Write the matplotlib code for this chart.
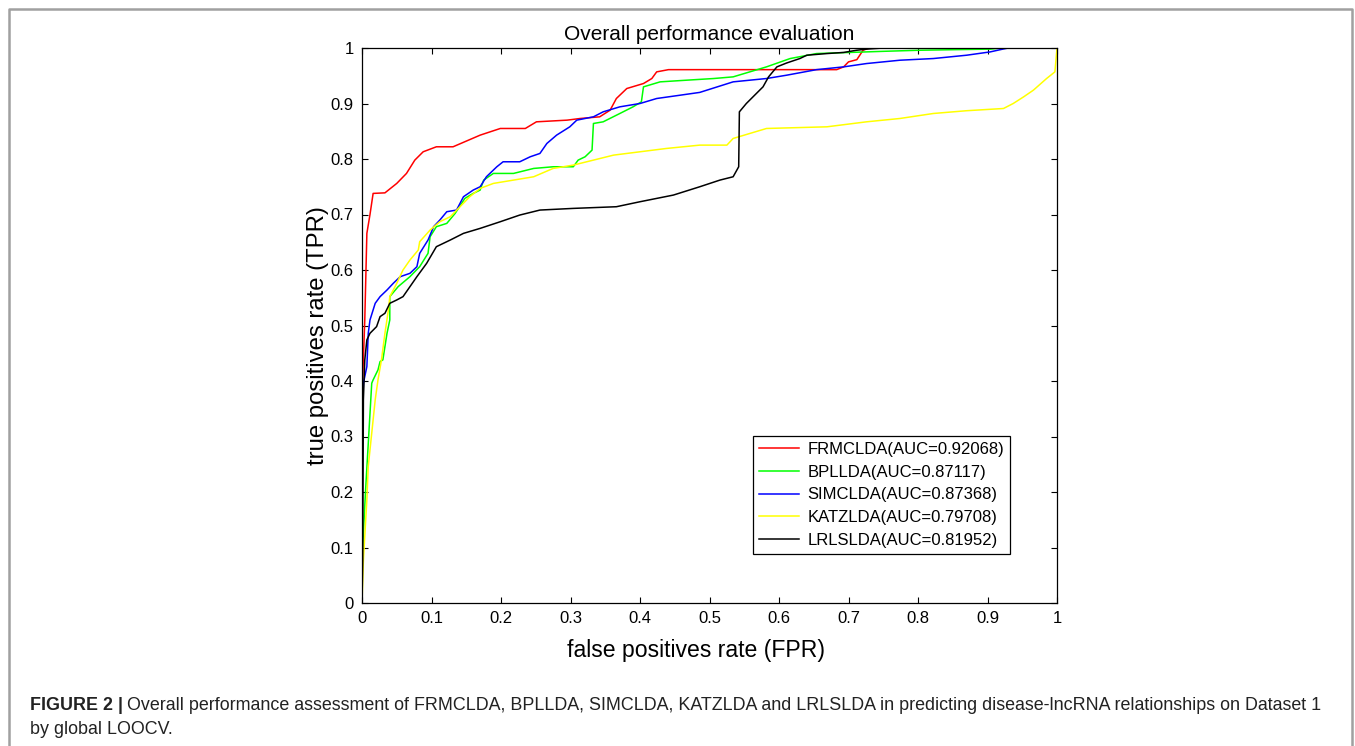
import numpy as np
import matplotlib
matplotlib.use('Agg')
import matplotlib.pyplot as plt
from matplotlib.lines import Line2D

plt.rcParams['font.family'] = ['Liberation Sans', 'DejaVu Sans']

# ROC curves (FPR, TPR)
frm_fpr = [0, 0.0, 0.004, 0.007, 0.0115, 0.016, 0.033, 0.05, 0.064, 0.076, 0.088, 0.107, 0.131, 0.17, 0.199,
           0.235, 0.251, 0.295, 0.314, 0.342, 0.357, 0.366, 0.381, 0.405, 0.417, 0.424, 0.441, 0.683, 0.693,
           0.70, 0.712, 0.721, 0.73, 1.0]
frm_tpr = [0, 0.37, 0.51, 0.666, 0.70, 0.738, 0.739, 0.756, 0.774, 0.798, 0.813, 0.822, 0.822, 0.843, 0.855,
           0.855, 0.867, 0.870, 0.873, 0.876, 0.888, 0.909, 0.927, 0.936, 0.945, 0.957, 0.961, 0.961, 0.966,
           0.975, 0.979, 0.996, 1.0, 1.0]

bpl_fpr = [0, 0.0, 0.005, 0.014, 0.016, 0.023, 0.026, 0.03, 0.036, 0.04, 0.04, 0.052, 0.069, 0.083, 0.095,
           0.098, 0.107, 0.122, 0.134, 0.148, 0.16, 0.17, 0.175, 0.189, 0.218, 0.247, 0.275, 0.304, 0.311,
           0.321, 0.331, 0.333, 0.347, 0.371, 0.39, 0.402, 0.405, 0.429, 0.467, 0.506, 0.534, 0.582, 0.616,
           0.654, 0.702, 0.75, 0.803, 0.904, 0.92, 1.0]
bpl_tpr = [0, 0.077, 0.2, 0.396, 0.402, 0.42, 0.435, 0.438, 0.486, 0.51, 0.552, 0.57, 0.588, 0.606, 0.63,
           0.66, 0.678, 0.684, 0.702, 0.729, 0.738, 0.744, 0.762, 0.774, 0.774, 0.783, 0.786, 0.786, 0.798,
           0.804, 0.816, 0.864, 0.867, 0.882, 0.894, 0.903, 0.93, 0.939, 0.942, 0.945, 0.948, 0.966, 0.981,
           0.990, 0.992, 0.994, 0.996, 0.998, 1.0, 1.0]

sim_fpr = [0, 0.0, 0.002, 0.007, 0.009, 0.0115, 0.019, 0.026, 0.036, 0.045, 0.055, 0.069, 0.079, 0.083,
           0.095, 0.103, 0.112, 0.122, 0.136, 0.146, 0.16, 0.17, 0.179, 0.194, 0.203, 0.227, 0.242, 0.256,
           0.266, 0.28, 0.299, 0.309, 0.333, 0.347, 0.371, 0.40, 0.424, 0.458, 0.486, 0.534, 0.582, 0.611,
           0.654, 0.693, 0.726, 0.774, 0.822, 0.87, 0.904, 0.922, 0.93, 1.0]
sim_tpr = [0, 0.3, 0.396, 0.426, 0.486, 0.51, 0.54, 0.552, 0.564, 0.576, 0.588, 0.594, 0.606, 0.63,
           0.654, 0.678, 0.69, 0.705, 0.708, 0.732, 0.744, 0.75, 0.768, 0.786, 0.795, 0.795, 0.804, 0.81,
           0.828, 0.843, 0.858, 0.870, 0.876, 0.885, 0.894, 0.90, 0.909, 0.915, 0.92, 0.939, 0.945, 0.951,
           0.961, 0.966, 0.972, 0.978, 0.981, 0.987, 0.993, 0.998, 1.0, 1.0]

katz_fpr = [0, 0.002, 0.007, 0.009, 0.014, 0.019, 0.023, 0.028, 0.033, 0.038, 0.04, 0.05, 0.059, 0.069,
            0.081, 0.083, 0.098, 0.112, 0.127, 0.141, 0.155, 0.17, 0.189, 0.218, 0.247, 0.275, 0.304, 0.333,
            0.362, 0.40, 0.438, 0.486, 0.525, 0.534, 0.582, 0.669, 0.726, 0.774, 0.822, 0.87, 0.923, 0.937,
            0.952, 0.966, 0.985, 0.997, 1.0]
katz_tpr = [0, 0.077, 0.186, 0.246, 0.306, 0.366, 0.402, 0.438, 0.486, 0.528, 0.552, 0.576, 0.60, 0.618,
            0.636, 0.651, 0.672, 0.687, 0.696, 0.714, 0.732, 0.747, 0.756, 0.762, 0.768, 0.783, 0.789, 0.798,
            0.807, 0.813, 0.819, 0.825, 0.825, 0.837, 0.855, 0.858, 0.867, 0.873, 0.882, 0.887, 0.891, 0.90,
            0.912, 0.924, 0.945, 0.957, 1.0]

lrls_fpr = [0, 0.001, 0.002, 0.004, 0.007, 0.0115, 0.021, 0.026, 0.033, 0.04, 0.05, 0.059, 0.069, 0.079,
            0.093, 0.107, 0.127, 0.146, 0.17, 0.199, 0.227, 0.256, 0.304, 0.366, 0.40, 0.448, 0.486, 0.515,
            0.534, 0.542, 0.543, 0.553, 0.565, 0.577, 0.585, 0.597, 0.611, 0.63, 0.64, 0.669, 0.693, 0.712,
            0.726, 0.75, 1.0]
lrls_tpr = [0, 0.077, 0.366, 0.438, 0.474, 0.486, 0.498, 0.516, 0.522, 0.54, 0.546, 0.552, 0.570, 0.588,
            0.612, 0.642, 0.654, 0.666, 0.675, 0.687, 0.699, 0.708, 0.711, 0.714, 0.723, 0.735, 0.75, 0.762,
            0.768, 0.786, 0.885, 0.90, 0.915, 0.93, 0.948, 0.966, 0.973, 0.981, 0.987, 0.99, 0.992, 0.996,
            0.998, 1.0, 1.0]

names = ['FRMCLDA(AUC=0.92068)', 'BPLLDA(AUC=0.87117)', 'SIMCLDA(AUC=0.87368)',
         'KATZLDA(AUC=0.79708)', 'LRLSLDA(AUC=0.81952)']
colors = ['#ff0000', '#00ff00', '#0000ff', '#ffff00', '#000000']
curves = [(frm_fpr, frm_tpr), (bpl_fpr, bpl_tpr), (sim_fpr, sim_tpr),
          (katz_fpr, katz_tpr), (lrls_fpr, lrls_tpr)]

W, H = 1355, 746
fig = plt.figure(figsize=(W / 100, H / 100), dpi=100)
ax = fig.add_axes([362 / W, 1 - 603 / H, 695 / W, 555 / H])

for (fx, ty), c, n in zip(curves, colors, names):
    ax.plot(fx, ty, color=c, lw=1.1, label=n)

ax.set_xlim(0, 1)
ax.set_ylim(0, 1)
ticks = np.round(np.arange(0, 1.01, 0.1), 1)
ax.set_xticks(ticks)
ax.set_yticks(ticks)
ax.set_xticklabels(['0'] + ['%g' % t for t in ticks[1:-1]] + ['1'])
ax.set_yticklabels(['0'] + ['%g' % t for t in ticks[1:-1]] + ['1'])
ax.tick_params(direction='in', top=True, right=True, length=4.5, width=0.8,
               labelsize=12, pad=6)
for s in ax.spines.values():
    s.set_linewidth(0.9)

ax.set_title('Overall performance evaluation', fontsize=15, pad=6)
ax.set_xlabel('false positives rate (FPR)', fontsize=16.6, labelpad=12)
ax.xaxis.set_label_coords((696 - 362) / 695, -(651 - 603) / 555)
ax.set_ylabel('true positives rate (TPR)', fontsize=17.2, labelpad=2)
ax.yaxis.set_label_coords(-(362 - 318) / 695, (603 - 336) / 555)
ax.yaxis.label.set_va('center')
ax.xaxis.label.set_va('center')

leg = ax.legend(loc='upper left', bbox_to_anchor=(753 / W, 1 - 436 / H),
                bbox_transform=fig.transFigure, fontsize=12, frameon=True,
                fancybox=False, framealpha=1, edgecolor='black', borderaxespad=0,
                borderpad=0.35, labelspacing=0.47, handlelength=2.4, handletextpad=0.5)
leg.get_frame().set_linewidth(0.9)

# outer gray frame (open at the bottom)
fig.add_artist(Line2D([8.5 / W, 8.5 / W, 1351.5 / W, 1351.5 / W],
                      [-0.01, 1 - 8.5 / H, 1 - 8.5 / H, -0.01],
                      transform=fig.transFigure, color='#a0a0a0', lw=1.8))

# caption
cap_size = 12.9
t1 = fig.text(30 / W, 1 - 705 / H, 'FIGURE 2 |', fontsize=cap_size, fontweight='bold',
              va='center', ha='left', color='#222222')
fig.canvas.draw()
bb = t1.get_window_extent()
fig.text((bb.x1 + 4) / W, 1 - 705 / H,
         'Overall performance assessment of FRMCLDA, BPLLDA, SIMCLDA, KATZLDA and LRLSLDA '
         'in predicting disease-lncRNA relationships on Dataset 1',
         fontsize=cap_size, va='center', ha='left', color='#222222')
fig.text(30 / W, 1 - 729 / H, 'by global LOOCV.', fontsize=cap_size, va='center',
         ha='left', color='#222222')

fig.savefig('out.png', dpi=100)
